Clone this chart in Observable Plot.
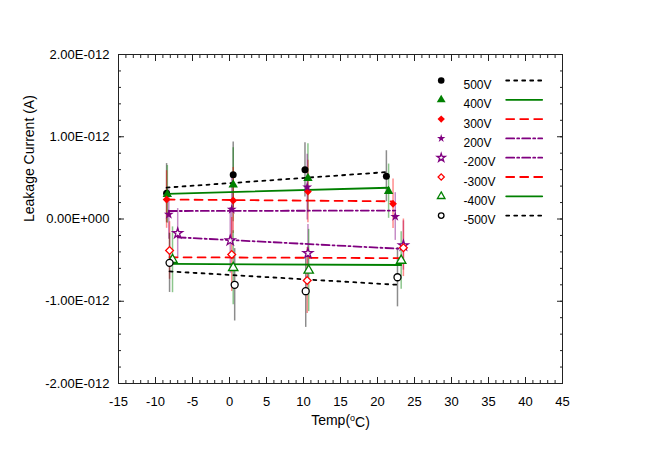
<!DOCTYPE html>
<html><head><meta charset="utf-8">
<script src="https://cdn.jsdelivr.net/npm/d3@7"></script>
<script src="https://cdn.jsdelivr.net/npm/@observablehq/plot@0.6"></script>
<style>body{margin:0;background:#fff;} #chart{width:654px;height:462px;}</style>
</head><body><div id="chart"></div>
<script>
// ---- data (currents in units of 1E-12 A) ----
const seriesNames = ["500V","400V","300V","200V","-200V","-300V","-400V","-500V"];
const seriesColors = ["#000000","#008000","#ff0000","#800080","#800080","#ff0000","#008000","#000000"];
const seriesSymbols = ["circle","triangle","diamond2","star","star","diamond2","triangle","circle"];
const seriesFilled = [true,true,true,true,false,false,false,false];
const seriesDash = ["3,5",null,"8,6","8,3,2,3","8,3,2,3","8,6",null,"3,5"];
const temps = [
  [-8.5, 0.5, 10.2, 21.2],
  [-8.4, 0.5, 10.6, 21.5],
  [-8.5, 0.5, 10.6, 22.1],
  [-8.2, 0.3, 10.5, 22.4],
  [-7.0, 0.1, 10.6, 23.5],
  [-8.1, 0.3, 10.5, 23.5],
  [-7.7, 0.5, 10.7, 23.2],
  [-8.1, 0.7, 10.3, 22.7]
];
const currents = [
  [0.314, 0.537, 0.598, 0.520],
  [0.300, 0.416, 0.496, 0.338],
  [0.237, 0.225, 0.334, 0.185],
  [0.055, 0.116, 0.387, 0.030],
  [-0.173, -0.261, -0.416, -0.322],
  [-0.383, -0.432, -0.748, -0.350],
  [-0.496, -0.593, -0.626, -0.505],
  [-0.533, -0.800, -0.878, -0.708]
];
const errors = [
  [0.36, 0.40, 0.33, 0.31],
  [0.35, 0.45, 0.42, 0.33],
  [0.35, 0.40, 0.38, 0.30],
  [0.30, 0.40, 0.40, 0.29],
  [0.30, 0.40, 0.35, 0.30],
  [0.35, 0.45, 0.40, 0.35],
  [0.40, 0.45, 0.50, 0.35],
  [0.36, 0.44, 0.44, 0.36]
];
// linear fit values at the lowest and highest temperature of each series
const fitStart = [0.382, 0.306, 0.237, 0.097, -0.223, -0.465, -0.546, -0.637];
const fitEnd   = [0.570, 0.380, 0.215, 0.103, -0.364, -0.476, -0.559, -0.800];
const xTicksMajor = [-15,-10,-5,0,5,10,15,20,25,30,35,40,45];
const xTicksMinor = d3.range(-15, 45.001, 1);
const yTicksMajor = [-2,-1,0,1,2];
const yTicksMinor = d3.range(-2, 2.001, 0.2);
const yFormat = d => Math.abs(d) < 1e-9 ? "0.00E+000" : d.toFixed(2) + "E-012";
const xFormat = d => String(d);

const errMarks = [], lineMarks = [], dotMarks = [], legendMarks = [];
const lineShape = {draw(ctx, l){ ctx.moveTo(0,0); ctx.lineTo(0,-l); }};
seriesNames.forEach((name, i) => {
  const pts = temps[i].map((t, j) => ({t, c: currents[i][j], e: errors[i][j]}));
  const col = seriesColors[i];
  errMarks.push(Plot.ruleX(pts, {x: "t", y1: d => d.c - d.e, y2: d => d.c + d.e, stroke: col, strokeOpacity: 0.45, strokeWidth: 1.5}));
  const tmin = d3.min(temps[i]), tmax = d3.max(temps[i]);
  lineMarks.push(Plot.line([{t: tmin, c: fitStart[i]}, {t: tmax, c: fitEnd[i]}],
    {x: "t", y: "c", stroke: col, strokeWidth: 1.8, strokeDasharray: seriesDash[i] || undefined}));
  const dotStyle = seriesFilled[i]
    ? {fill: col, stroke: "none"}
    : {fill: "white", stroke: col, strokeWidth: 1.3};
  const rPlot = seriesSymbols[i] === "star" ? 3.1 : 3.5;
  const rLeg = seriesSymbols[i] === "star" ? 2.6 : (seriesFilled[i] ? 3.3 : 2.8);
  dotMarks.push(Plot.dot(pts, {x: "t", y: "c", symbol: seriesSymbols[i], r: rPlot, ...dotStyle}));
  const dy = 26 + i * 19.3;
  legendMarks.push(Plot.dot([name], {frameAnchor: "top-left", dx: 322.7, dy, symbol: seriesSymbols[i], r: rLeg, ...dotStyle}));
  legendMarks.push(Plot.text([name], {text: d => d, frameAnchor: "top-left", dx: 345, dy, textAnchor: "start", fontSize: 12, fill: "black"}));
  legendMarks.push(Plot.vector([name], {frameAnchor: "top-left", dx: 387.7, dy, length: 36, rotate: 90, anchor: "start",
    shape: lineShape, stroke: col, strokeWidth: 1.8, strokeDasharray: seriesDash[i] || undefined}));
});

const tickCol = "#222";
const chart = Plot.plot({
  width: 654, height: 462,
  marginLeft: 118, marginRight: 92, marginTop: 54, marginBottom: 79,
  style: {fontFamily: "'Liberation Sans', Arial, sans-serif", background: "white", color: "black"},
  x: {domain: [-15, 45]},
  y: {domain: [-2, 2]},
  marks: [
    Plot.axisX(xTicksMinor, {anchor: "bottom", tickSize: -3, tickFormat: () => "", label: null, stroke: tickCol}),
    Plot.axisX(xTicksMajor, {anchor: "bottom", tickSize: -6, tickFormat: () => "", label: null, stroke: tickCol}),
    Plot.axisX(xTicksMinor, {anchor: "top", tickSize: -3, tickFormat: () => "", label: null, stroke: tickCol}),
    Plot.axisX(xTicksMajor, {anchor: "top", tickSize: -6, tickFormat: () => "", label: null, stroke: tickCol}),
    Plot.axisX(xTicksMajor, {anchor: "bottom", tickSize: 0, tickPadding: 13, fontSize: 13, tickFormat: xFormat, label: null}),
    Plot.axisY(yTicksMinor, {anchor: "left", tickSize: -3, tickFormat: () => "", label: null, stroke: tickCol}),
    Plot.axisY(yTicksMajor, {anchor: "left", tickSize: -6, tickFormat: () => "", label: null, stroke: tickCol}),
    Plot.axisY(yTicksMinor, {anchor: "right", tickSize: -3, tickFormat: () => "", label: null, stroke: tickCol}),
    Plot.axisY(yTicksMajor, {anchor: "right", tickSize: -6, tickFormat: () => "", label: null, stroke: tickCol}),
    Plot.axisY(yTicksMajor, {anchor: "left", tickSize: 0, tickPadding: 9, fontSize: 13, tickFormat: yFormat, label: null}),
    ...errMarks,
    ...lineMarks,
    ...dotMarks,
    ...legendMarks,
    Plot.frame({stroke: tickCol, strokeWidth: 1}),
    Plot.text(["Temp(°C)"], {text: d => d, frameAnchor: "bottom", lineAnchor: "middle", dy: 37, fontSize: 14, fill: "black"}),
    Plot.text(["Leakage Current (A)"], {text: d => d, frameAnchor: "left", lineAnchor: "middle", dx: -89, dy: 3, rotate: -90, fontSize: 14, fill: "black"})
  ]
});
document.getElementById("chart").appendChild(chart);
// superscript "o" in the x title
d3.select(chart).selectAll("text").filter(function(){ return this.textContent === "Temp(°C)"; })
  .each(function(){
    const t = d3.select(this); t.text("");
    t.append("tspan").text("Temp(");
    t.append("tspan").attr("dy", "-0.45em").attr("font-size", "9").text("o");
    t.append("tspan").attr("dy", "0.45em").text("C)");
  });
</script></body></html>
